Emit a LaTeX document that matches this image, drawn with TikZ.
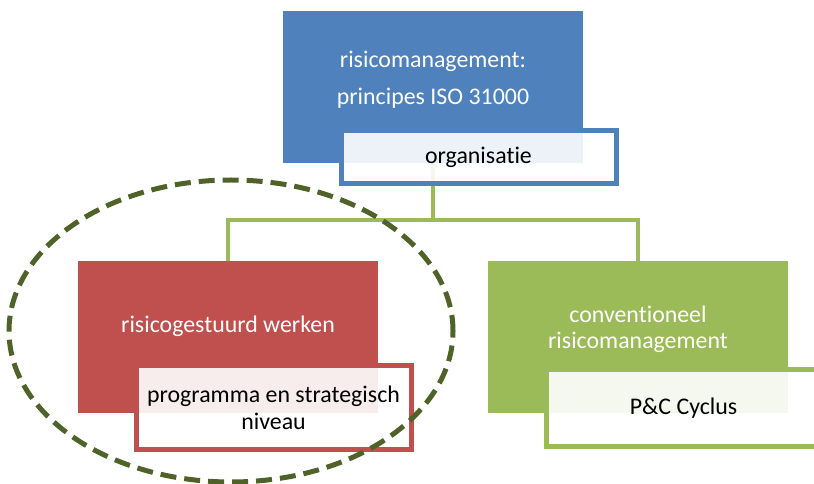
\documentclass[tikz,border=0pt]{standalone}
\usepackage{fontspec}
\setmainfont{Carlito}[Ligatures=NoCommon]
\usepackage{xcolor}
\definecolor{IsoBlue}{HTML}{4F81BD}
\definecolor{RiskRed}{HTML}{C0504D}
\definecolor{ConvGreen}{HTML}{9BBB59}
\definecolor{OliveDark}{HTML}{4F6228}
\usepackage{tikz}
\usetikzlibrary{calc}

\tikzset{
  mainbox/.style={minimum width=225pt, minimum height=114pt, inner sep=0pt},
  subbox/.style={draw, line width=3.75pt, fill=white, fill opacity=0.9, text opacity=1,
    minimum width=206.25pt, inner sep=0pt, align=center, font=\fontsize{17.9}{20.25}\selectfont},
  boxtext/.style={text=white, align=center, inner sep=0pt},
  branch/.style={draw=ConvGreen, line width=3pt},
  focus/.style={draw=OliveDark, line width=3.75pt, dash pattern=on 12pt off 6pt},
}

\begin{document}
\begin{tikzpicture}[x=0.75pt, y=-0.75pt]
    \clip (0,0) rectangle (814,484);

    \node[mainbox, fill=IsoBlue] (iso) at (433,87) {};
    \node[mainbox, fill=RiskRed] (rgw) at (228,337) {};
    \node[mainbox, fill=ConvGreen] (conv) at (638,337) {};

    % boomstructuur
    \coordinate (split) at (433,220);
    \draw[branch] (iso.south) -- (split) -| (rgw.north);
    \draw[branch] (split) -| (conv.north);

    \node[boxtext, font=\fontsize{17.9}{27.75}\selectfont] (isotxt) at (433,80) {risicomanagement:\\principes ISO 31000};
    \node[boxtext, font=\fontsize{17.9}{20}\selectfont] (rgwtxt) at (228,326) {risicogestuurd werken};
    \node[boxtext, font=\fontsize{17.9}{19.5}\selectfont] (convtxt) at (638,329) {conventioneel\\risicomanagement};

    \node[subbox, draw=IsoBlue, minimum height=39.75pt] (org) at (478.5,157.5) {organisatie};
    \node[subbox, draw=RiskRed, minimum height=63pt] (prog) at (273.5,408) {programma en strategisch\\niveau};
    \node[subbox, draw=ConvGreen, minimum height=57.75pt] (pc) at (683.5,408) {P\&C Cyclus};

    \draw[focus] (231,331) ellipse [x radius=166.5pt, y radius=113.25pt];
\end{tikzpicture}
\end{document}
